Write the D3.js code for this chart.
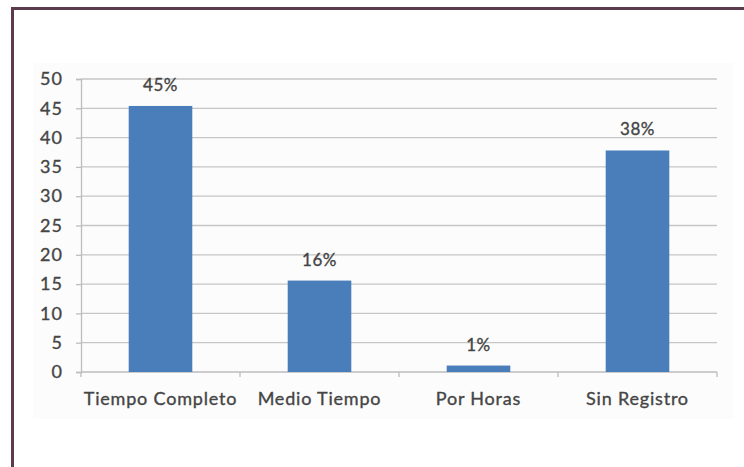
<!DOCTYPE html>
<html>
<head>
<meta charset="utf-8">
<script src="https://cdnjs.cloudflare.com/ajax/libs/d3/7.8.5/d3.min.js"></script>
<style>
  body { margin: 0; background: #fff; }
  svg { display: block; }
  .lbl { font-family: Lato, 'Open Sans', sans-serif; fill: #454545; stroke: #454545; stroke-width: 0.35px; }
</style>
</head>
<body>
<svg id="canvas"></svg>
<script>
const categories = ["Tiempo Completo", "Medio Tiempo", "Por Horas", "Sin Registro"]
const values = [45.4, 15.6, 1.1, 37.8]
const valueLabels = ["45%", "16%", "1%", "38%"]
const yTicks = [0, 5, 10, 15, 20, 25, 30, 35, 40, 45, 50]

const width = 744
const height = 467
const margin = { top: 79, right: 27, bottom: 95, left: 81 }

let svg = d3.select("#canvas")
    .attr("width", width)
    .attr("height", height)

// frame
svg.append("rect")
    .attr("x", 0).attr("y", 0)
    .attr("width", width).attr("height", height)
    .attr("fill", "#fff")
svg.append("path")
    .attr("d", "M12.5," + height + " V8.5 H" + width)
    .attr("fill", "none")
    .attr("stroke", "#5c3b4f")
    .attr("stroke-width", 3)

// faint chart area
svg.append("rect")
    .attr("x", 33).attr("y", 63)
    .attr("width", 700).attr("height", 356)
    .attr("fill", "#fcfcfc")

const xScale = d3.scaleBand()
    .domain(categories)
    .range([margin.left, width - margin.right])
    .paddingInner(0.6)
    .paddingOuter(0.3)

const yScale = d3.scaleLinear()
    .domain([0, 50])
    .range([height - margin.bottom, margin.top])

// gridlines
svg.append("g")
    .selectAll("line")
    .data(yTicks.slice(1))
    .enter()
    .append("line")
    .attr("x1", margin.left)
    .attr("x2", width - margin.right)
    .attr("y1", d => yScale(d))
    .attr("y2", d => yScale(d))
    .attr("stroke", "#c6c6c6")
    .attr("stroke-width", 1.3)

// y axis
let yAxis = d3.axisLeft(yScale).tickValues(yTicks).tickSize(5).tickPadding(13)
let gy = svg.append("g")
    .attr("id", "y-axis")
    .attr("transform", "translate(" + margin.left + ",0)")
    .call(yAxis)
gy.select(".domain").attr("stroke", "#bdbdbd").attr("stroke-width", 1.3)
gy.selectAll(".tick line").attr("stroke", "#bdbdbd").attr("stroke-width", 1.3)
gy.selectAll(".tick text")
    .attr("class", "lbl")
    .attr("fill", null)
    .style("font-size", "18px")
    .style("letter-spacing", "1px")

// x axis with separators
let step = xScale.step()
let sepTicks = d3.range(categories.length + 1).map(i => margin.left + i * step)
svg.append("line")
    .attr("x1", margin.left).attr("x2", width - margin.right)
    .attr("y1", yScale(0)).attr("y2", yScale(0))
    .attr("stroke", "#bdbdbd").attr("stroke-width", 1.3)
svg.append("g")
    .selectAll("line")
    .data(sepTicks)
    .enter()
    .append("line")
    .attr("x1", d => d).attr("x2", d => d)
    .attr("y1", yScale(0)).attr("y2", yScale(0) + 5)
    .attr("stroke", "#bdbdbd").attr("stroke-width", 1.3)

svg.append("g")
    .selectAll("text")
    .data(categories)
    .enter()
    .append("text")
    .attr("class", "lbl")
    .attr("x", d => xScale(d) + xScale.bandwidth() / 2)
    .attr("y", yScale(0) + 33)
    .attr("text-anchor", "middle")
    .style("font-size", "18px")
    .style("letter-spacing", "0.8px")
    .text(d => d)

// bars
svg.append("g")
    .selectAll("rect")
    .data(values)
    .enter()
    .append("rect")
    .attr("x", (d, i) => xScale(categories[i]))
    .attr("y", d => yScale(d))
    .attr("width", xScale.bandwidth())
    .attr("height", d => yScale(0) - yScale(d))
    .attr("fill", "#4a7ebb")

// value labels
svg.append("g")
    .selectAll("text")
    .data(values)
    .enter()
    .append("text")
    .attr("class", "lbl")
    .attr("x", (d, i) => xScale(categories[i]) + xScale.bandwidth() / 2)
    .attr("y", d => yScale(d) - 15)
    .attr("text-anchor", "middle")
    .style("font-size", "17px")
    .style("letter-spacing", "0.6px")
    .text((d, i) => valueLabels[i])
</script>
</body>
</html>
